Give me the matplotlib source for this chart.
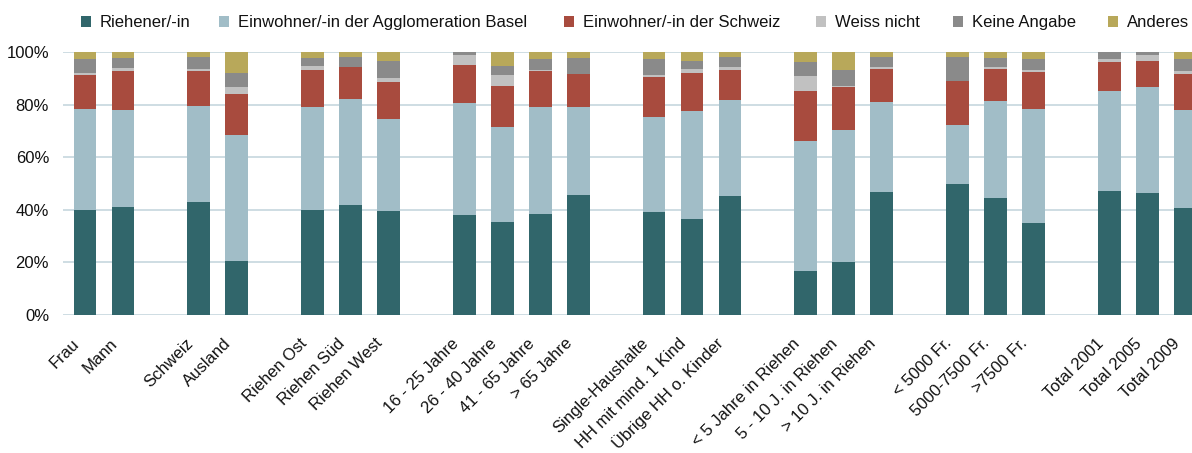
import matplotlib
matplotlib.use("Agg")
import matplotlib.pyplot as plt
from matplotlib.patches import Patch
from matplotlib.transforms import ScaledTranslation
import numpy as np

plt.rcParams['font.family'] = ['Liberation Sans', 'DejaVu Sans']

categories = ["Frau", "Mann",
              "Schweiz", "Ausland",
              "Riehen Ost", "Riehen Süd", "Riehen West",
              "16 - 25 Jahre", "26 - 40 Jahre", "41 - 65 Jahre", "> 65 Jahre",
              "Single-Haushalte", "HH mit mind. 1 Kind", "Übrige HH o. Kinder",
              "< 5 Jahre in Riehen", "5 - 10 J. in Riehen", "> 10 J. in Riehen",
              "< 5000 Fr.", "5000-7500 Fr.", ">7500 Fr.",
              "Total 2001", "Total 2005", "Total 2009"]
groups = [0, 0, 1, 1, 2, 2, 2, 3, 3, 3, 3, 4, 4, 4, 5, 5, 5, 6, 6, 6, 7, 7, 7]

series_names = ["Riehener/-in", "Einwohner/-in der Agglomeration Basel",
                "Einwohner/-in der Schweiz", "Weiss nicht", "Keine Angabe", "Anderes"]

riehener = [39.9, 41.1, 43.0, 20.5, 39.9, 41.8, 39.5, 38.0, 35.4, 38.4, 45.6,
            39.2, 36.5, 45.2, 16.7, 20.2, 46.8, 49.8, 44.5, 35.0, 47.1, 46.4, 40.7]
agglomeration = [38.4, 36.8, 36.5, 47.9, 39.2, 40.3, 35.0, 42.6, 36.1, 40.7, 33.5,
                 36.1, 41.1, 36.5, 49.5, 50.1, 34.2, 22.4, 36.9, 43.3, 38.1, 40.3, 37.2]
schweiz = [13.0, 14.9, 13.3, 15.6, 14.1, 12.2, 14.1, 14.5, 15.6, 13.7, 12.5,
           15.2, 14.4, 11.5, 19.0, 16.4, 12.5, 16.8, 12.1, 14.1, 11.0, 9.9, 13.7]
weiss_nicht = [0.7, 1.1, 0.7, 2.7, 1.5, 0.0, 1.5, 3.8, 4.2, 0.4, 0.0,
               0.8, 1.5, 1.1, 5.7, 0.4, 0.8, 0.0, 0.8, 0.8, 1.1, 2.3, 1.2]
keine_angabe = [5.3, 3.8, 4.6, 5.3, 3.0, 3.8, 6.5, 1.1, 3.4, 4.1, 6.1,
                6.0, 3.1, 3.8, 5.3, 6.1, 3.8, 9.1, 3.4, 4.1, 2.7, 1.1, 4.5]
anderes = [2.7, 2.3, 1.9, 8.0, 2.3, 1.9, 3.4, 0.0, 5.3, 2.7, 2.3,
           2.7, 3.4, 1.9, 3.8, 6.8, 1.9, 1.9, 2.3, 2.7, 0.0, 0.0, 2.7]

y_ticks = [0, 20, 40, 60, 80, 100]
y_tick_labels = ["0%", "20%", "40%", "60%", "80%", "100%"]

colors = ["#31666b", "#a1bdc7", "#a84b3e", "#c1c1c1", "#8a8a8a", "#b8a85a"]

series = [riehener, agglomeration, schweiz, weiss_nicht, keine_angabe, anderes]

W, H = 1192, 453
fig = plt.figure(figsize=(W / 100, H / 100), dpi=100)
ax = fig.add_axes([63 / W, (H - 315) / H, (W - 63) / W, (315 - 52) / H])

x = np.arange(len(categories)) + np.array(groups)
bottom = np.zeros(len(categories))
for vals, col, name in zip(series, colors, series_names):
    v = np.array(vals)
    ax.bar(x, v, width=0.6, bottom=bottom, color=col, label=name, zorder=3, linewidth=0)
    bottom += v

ax.set_xlim(-0.58, 29.18)
ax.set_ylim(0, 100)
ax.set_yticks(y_ticks)
ax.set_yticklabels(y_tick_labels, fontsize=12, color="#111111")
ax.yaxis.grid(True, color="#c6d7de", linewidth=1.2, zorder=0)
ax.set_axisbelow(True)
for s in ax.spines.values():
    s.set_visible(False)
ax.tick_params(axis="y", length=0, pad=10)
ax.tick_params(axis="x", length=0, pad=21)
ax.set_xticks(x)
ax.set_xticklabels(categories, rotation=45, ha="right", va="baseline",
                   rotation_mode="anchor", fontsize=12, color="#111111")
shift = ScaledTranslation(-5 / 100, 0, fig.dpi_scale_trans)
for lbl in ax.get_xticklabels():
    lbl.set_transform(lbl.get_transform() + shift)

# legend: one entry per series, placed at the reference's entry positions
legend_x = [81, 219, 564, 816, 953, 1108]
for name, col, lx in zip(series_names, colors, legend_x):
    leg = fig.legend([Patch(facecolor=col, edgecolor="none")], [name],
                     loc="center left", bbox_to_anchor=(lx / W, 1 - 22.5 / H),
                     frameon=False, fontsize=12, handlelength=0.62, handleheight=0.62,
                     handletextpad=0.5, borderpad=0, borderaxespad=0,
                     labelcolor="#111111")

fig.savefig("out.png", dpi=100)
